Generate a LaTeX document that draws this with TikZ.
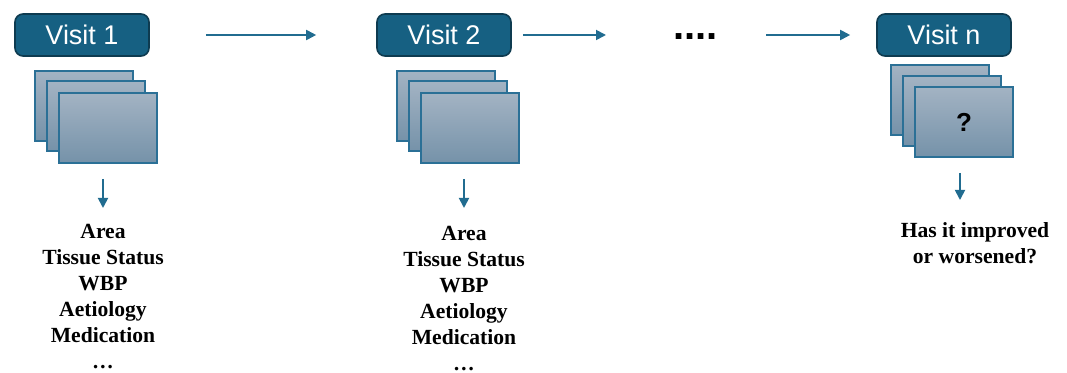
\documentclass[tikz,border=0pt]{standalone}
\usepackage{fontspec}
\setmainfont{Liberation Serif}
\setsansfont{Liberation Sans}
\usepackage{tikz}
\usetikzlibrary{arrows.meta}
\definecolor{visitfill}{HTML}{166082}
\definecolor{visitedge}{HTML}{0E3B50}
\definecolor{sheettop}{HTML}{A3B3C3}
\definecolor{sheetbot}{HTML}{7592A9}
\definecolor{sheetedge}{HTML}{2B7096}
\definecolor{flowc}{HTML}{216C90}

\begin{document}
\begin{tikzpicture}[
    x=0.5pt, y=-0.5pt,
    visit/.style={rounded corners=4pt, draw=visitedge, line width=0.8pt, fill=visitfill,
                  minimum width=67pt, minimum height=21pt, inner sep=0pt, text=white,
                  font=\sffamily\fontsize{13.5}{16}\selectfont},
    sheet/.style={draw=sheetedge, line width=0.7pt, top color=sheettop, bottom color=sheetbot,
                  minimum width=49pt, minimum height=35pt, inner sep=0pt,
                  font=\sffamily\bfseries\fontsize{13}{15}\selectfont},
    flow/.style={-{Triangle[length=5pt,width=5pt]}, line width=0.9pt, draw=flowc},
    items/.style={align=center, anchor=north, inner sep=0pt,
                  font=\bfseries\fontsize{10.8}{13}\selectfont}
  ]
  \useasboundingbox (0,0) rectangle (1067,373);

  %%%%%%%%%%%%% Visit headers %%%%%%%%%%%%%
  \node[visit] (v1) at (82,35) {Visit 1};
  \node[visit] (v2) at (444,35) {Visit 2};
  \node[visit] (vn) at (944,35) {Visit n};
  \node[anchor=west, inner sep=0pt, font=\sffamily\bfseries\fontsize{20}{20}\selectfont] (dots) at (673,37) {....};

  %%%%%%%%%%%%% Image stacks %%%%%%%%%%%%%
  \node[sheet] (s1a) at (84,106) {};
  \node[sheet] (s1b) at (96,116) {};
  \node[sheet] (s1c) at (108,128) {};

  \node[sheet] (s2a) at (446,106) {};
  \node[sheet] (s2b) at (458,116) {};
  \node[sheet] (s2c) at (470,128) {};

  \node[sheet] (sna) at (940,100) {};
  \node[sheet] (snb) at (952,111) {};
  \node[sheet] (snc) at (964,122) {?};

  %%%%%%%%%%%%% Measured items %%%%%%%%%%%%%
  \node[items] (list1) at (103,224) {Area\\Tissue Status\\WBP\\Aetiology\\Medication\\\ldots};
  \node[items] (list2) at (464,226) {Area\\Tissue Status\\WBP\\Aetiology\\Medication\\\ldots};
  \node[items] (ask) at (975,222) {Has it improved\\or worsened?};

  \coordinate (d1) at (103,179);
  \coordinate (d2) at (464,179);
  \coordinate (dn) at (960,173);

  %%%%%%%%%%%%% Connections %%%%%%%%%%%%%
  \draw[flow, shorten <=28pt, shorten >=30pt] (v1.east) -- (v2.west);
  \draw[flow, shorten <=5.5pt, shorten >=33.5pt] (v2.east) -- (v2.east -| dots.west);
  \draw[flow, shorten <=24pt, shorten >=13pt] (vn.west -| dots.east) -- (vn.west);

  \draw[flow, shorten >=8pt] (d1) -- (d1 |- list1.north);
  \draw[flow, shorten >=9pt] (d2) -- (d2 |- list2.north);
  \draw[flow, shorten >=11pt] (dn) -- (dn |- ask.north);

\end{tikzpicture}
\end{document}
